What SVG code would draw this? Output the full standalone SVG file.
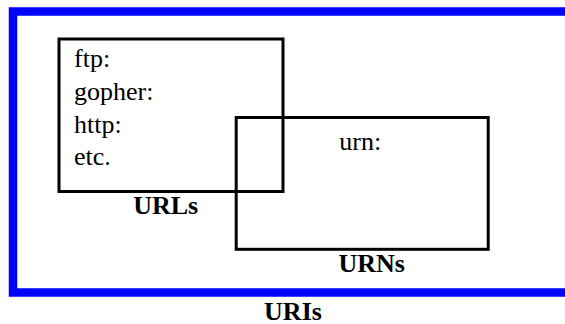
<svg xmlns="http://www.w3.org/2000/svg" width="565" height="324" viewBox="0 0 565 324">
  <style>
    .frame { fill: none; stroke: #0000ff; stroke-width: 8.5; }
    .box { fill: none; stroke: #000; stroke-width: 3; }
    .t { font-family: "Liberation Serif", "Times New Roman", serif; font-size: 26px; fill: #000; }
    .b { font-weight: bold; text-anchor: middle; }
  </style>
  <rect width="565" height="324" fill="#fff"/>

  <!-- URI set: open frame -->
  <g id="uris">
    <path class="frame" d="M565 11.5 H13 V292.5 H565"/>
    <text class="t b" x="293" y="320">URIs</text>
  </g>

  <!-- URL set -->
  <g id="urls">
    <rect class="box" x="59" y="39" width="224" height="152.5"/>
    <text class="t" x="74" y="66.5">ftp:</text>
    <text class="t" x="74" y="99.5">gopher:</text>
    <text class="t" x="74" y="132.5">http:</text>
    <text class="t" x="74" y="164.5">etc.</text>
    <text class="t b" x="165.7" y="213.5">URLs</text>
  </g>

  <!-- URN set -->
  <g id="urns">
    <rect class="box" x="236.2" y="117.5" width="252" height="131.8"/>
    <text class="t" x="339.3" y="150">urn:</text>
    <text class="t b" x="371.7" y="272.3">URNs</text>
  </g>

  <g id="connectors"></g>
</svg>
